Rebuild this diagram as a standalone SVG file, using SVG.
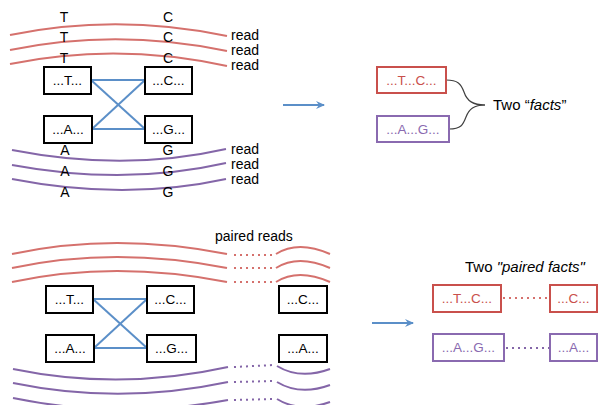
<svg xmlns="http://www.w3.org/2000/svg" width="598" height="405" viewBox="0 0 598 405">
  <defs>
    <style>
      text { font-family: "Liberation Sans", Arial, sans-serif; fill: #000; }
      .lbl { font-size: 14px; }
      .base { font-size: 14px; text-anchor: middle; }
      .box { fill: #fff; stroke: #000; stroke-width: 2; }
      .boxtxt { font-size: 13.5px; text-anchor: middle; }
      .rbox { fill: #fff; stroke: #c9504c; stroke-width: 2; }
      .pbox { fill: #fff; stroke: #8a6ab0; stroke-width: 2; }
      .rtxt { fill: #c9504c; }
      .ptxt { fill: #8a6ab0; }
      .rread { fill: none; stroke: #d5716d; stroke-width: 2; }
      .pread { fill: none; stroke: #8466a8; stroke-width: 2; }
      .rdot { fill: none; stroke: #d5716d; stroke-width: 2; stroke-dasharray: 2 4; }
      .pdot { fill: none; stroke: #8466a8; stroke-width: 2; stroke-dasharray: 2 4; }
      .link { stroke: #5b8fc8; stroke-width: 2; fill: none; }
      .arrow { stroke: #5b8fc8; stroke-width: 2; fill: none; marker-end: url(#head); }
      .brace { fill: none; stroke: #404040; stroke-width: 1.2; }
      .big { font-size: 15px; }
    </style>
    <marker id="head" viewBox="0 0 10 10" refX="8" refY="5" markerWidth="5" markerHeight="5" orient="auto" markerUnits="strokeWidth">
      <path d="M0,1 L9,5 L0,9 L3,5 Z" fill="#5b8fc8"/>
    </marker>
  </defs>

  <!-- ===== Top panel: single reads ===== -->
  <g id="reads-top-red">
    <path class="rread" d="M10,35 Q117,13 227,36"/>
    <path class="rread" d="M10,50 Q117,28 227,51"/>
    <path class="rread" d="M10,64 Q117,42 227,66"/>
    <text class="lbl" x="231" y="40">read</text>
    <text class="lbl" x="231" y="55">read</text>
    <text class="lbl" x="231" y="70">read</text>
  </g>
  <g id="bases-top">
    <text class="base" x="64" y="22">T</text>
    <text class="base" x="64" y="42">T</text>
    <text class="base" x="64" y="63">T</text>
    <text class="base" x="168" y="22">C</text>
    <text class="base" x="168" y="42">C</text>
    <text class="base" x="168" y="63">C</text>
  </g>

  <g id="connectors">
    <!-- top panel links -->
    <line class="link" x1="91" y1="80" x2="145" y2="80"/>
    <line class="link" x1="92" y1="129" x2="145" y2="129"/>
    <line class="link" x1="91" y1="80" x2="145" y2="129"/>
    <line class="link" x1="92" y1="129" x2="145" y2="80"/>
    <!-- bottom panel links -->
    <line class="link" x1="93" y1="299" x2="147" y2="299"/>
    <line class="link" x1="94" y1="348" x2="147" y2="348"/>
    <line class="link" x1="93" y1="299" x2="147" y2="348"/>
    <line class="link" x1="94" y1="348" x2="147" y2="299"/>
    <!-- arrows -->
    <line class="arrow" x1="283" y1="105" x2="324" y2="105"/>
    <line class="arrow" x1="372" y1="323" x2="413" y2="323"/>
    <!-- brace -->
    <path class="brace" d="M446,80 C458,80 461,84 464,92 C467,101 473,105 485,105"/>
    <path class="brace" d="M449,129 C461,129 463,125 466,117 C469,109 474,105 485,105"/>
    <!-- mate gaps -->
    <line class="rdot" x1="503" y1="298" x2="550" y2="298"/>
    <line class="pdot" x1="506" y1="348" x2="550" y2="348"/>
  </g>

  <g id="node-T1"><rect class="box" x="44" y="67" width="47" height="27"/><text class="boxtxt" x="67.5" y="85">...T...</text></g>
  <g id="node-C1"><rect class="box" x="145" y="67" width="47" height="27"/><text class="boxtxt" x="168.5" y="85">...C...</text></g>
  <g id="node-A1"><rect class="box" x="44" y="116" width="48" height="27"/><text class="boxtxt" x="68" y="134">...A...</text></g>
  <g id="node-G1"><rect class="box" x="145" y="116" width="47" height="27"/><text class="boxtxt" x="168.5" y="134">...G...</text></g>

  <g id="reads-top-purple">
    <path class="pread" d="M12,150 Q125,172 226,149"/>
    <path class="pread" d="M12,165 Q125,186 226,163"/>
    <path class="pread" d="M12,179 Q125,201 226,179"/>
    <text class="lbl" x="231" y="154">read</text>
    <text class="lbl" x="231" y="169">read</text>
    <text class="lbl" x="231" y="184">read</text>
  </g>
  <g id="bases-bottom">
    <text class="base" x="65" y="155">A</text>
    <text class="base" x="65" y="176">A</text>
    <text class="base" x="65" y="197">A</text>
    <text class="base" x="168" y="155">G</text>
    <text class="base" x="168" y="176">G</text>
    <text class="base" x="168" y="197">G</text>
  </g>

  <g id="fact-TC"><rect class="rbox" x="377" y="67" width="69" height="26"/><text class="boxtxt rtxt" x="411.5" y="85">...T...C...</text></g>
  <g id="fact-AG"><rect class="pbox" x="377" y="116" width="72" height="26"/><text class="boxtxt ptxt" x="413" y="134">...A...G...</text></g>
  <g id="label-facts"><text class="big" x="493" y="110">Two “<tspan font-style="italic">facts</tspan>”</text></g>

  <!-- ===== Bottom panel: paired reads ===== -->
  <g id="label-paired-reads"><text class="lbl" x="215" y="241">paired reads</text></g>
  <g id="pairs-red">
    <path class="rread" d="M12,254 Q115,232 227,254"/>
    <path class="rread" d="M12,268 Q115,246 227,268"/>
    <path class="rread" d="M12,282 Q115,260 227,282"/>
    <line class="rdot" x1="234" y1="255" x2="274" y2="255"/>
    <line class="rdot" x1="234" y1="268" x2="274" y2="268"/>
    <line class="rdot" x1="234" y1="282" x2="274" y2="282"/>
    <path class="rread" d="M276,254 Q298,240 330,254"/>
    <path class="rread" d="M276,268 Q298,254 330,268"/>
    <path class="rread" d="M276,282 Q298,268 330,282"/>
  </g>

  <g id="node-T2"><rect class="box" x="46" y="286" width="47" height="27"/><text class="boxtxt" x="69.5" y="304">...T...</text></g>
  <g id="node-C2"><rect class="box" x="147" y="286" width="47" height="27"/><text class="boxtxt" x="170.5" y="304">...C...</text></g>
  <g id="node-A2"><rect class="box" x="46" y="335" width="48" height="27"/><text class="boxtxt" x="70" y="353">...A...</text></g>
  <g id="node-G2"><rect class="box" x="147" y="335" width="49" height="27"/><text class="boxtxt" x="171.5" y="353">...G...</text></g>
  <g id="node-C3"><rect class="box" x="279" y="286" width="48" height="27"/><text class="boxtxt" x="303" y="304">...C...</text></g>
  <g id="node-A3"><rect class="box" x="279" y="335" width="48" height="27"/><text class="boxtxt" x="303" y="353">...A...</text></g>

  <g id="pairs-purple">
    <path class="pread" d="M13,369 Q120,391 228,367"/>
    <path class="pread" d="M13,383 Q120,405 228,382"/>
    <path class="pread" d="M13,398 Q120,420 228,400"/>
    <line class="pdot" x1="234" y1="367" x2="274" y2="365"/>
    <line class="pdot" x1="234" y1="382" x2="274" y2="381"/>
    <line class="pdot" x1="234" y1="400" x2="274" y2="399"/>
    <path class="pread" d="M277,366 Q300,380 330,369"/>
    <path class="pread" d="M277,382 Q300,396 330,385"/>
    <path class="pread" d="M277,399 Q300,413 330,402"/>
  </g>

  <g id="label-paired-facts"><text class="big" x="465" y="272">Two <tspan font-style="italic">"paired facts"</tspan></text></g>
  <g id="pfact-TC"><rect class="rbox" x="433" y="285" width="68" height="27"/><text class="boxtxt rtxt" x="467" y="303">...T...C...</text></g>
  <g id="pfact-C"><rect class="rbox" x="550" y="285" width="47" height="27"/><text class="boxtxt rtxt" x="573.5" y="303">...C...</text></g>
  <g id="pfact-AG"><rect class="pbox" x="433" y="334" width="71" height="27"/><text class="boxtxt ptxt" x="468.5" y="352">...A...G...</text></g>
  <g id="pfact-A"><rect class="pbox" x="550" y="334" width="47" height="27"/><text class="boxtxt ptxt" x="573.5" y="352">...A...</text></g>
</svg>
